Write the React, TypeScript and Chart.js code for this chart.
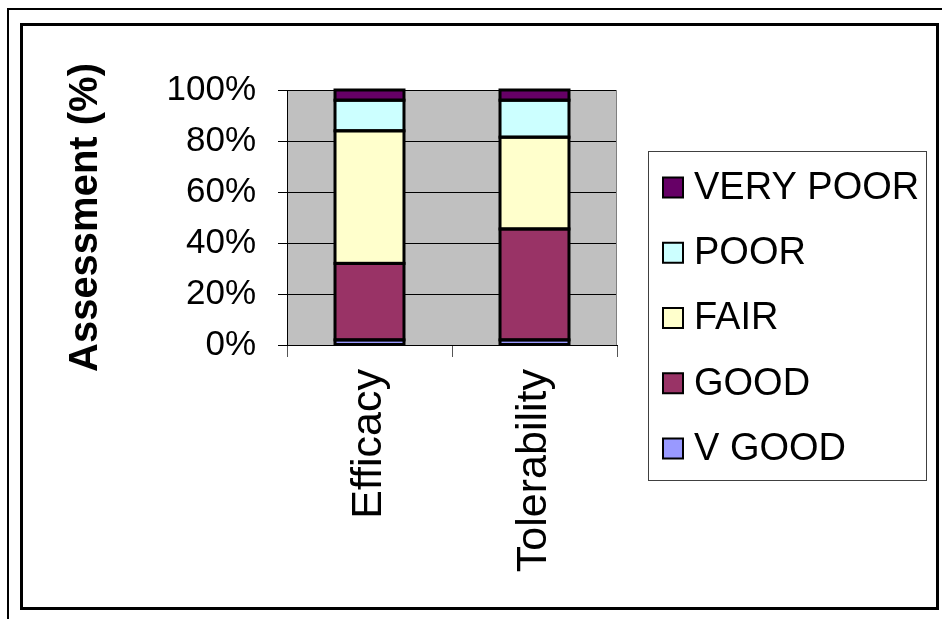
import React, { useEffect, useRef } from "react";
import { Chart, registerables } from "chart.js";

Chart.register(...registerables);

const categories = ["Efficacy", "Tolerability"];
const seriesNames = ["V GOOD", "GOOD", "FAIR", "POOR", "VERY POOR"];
const vGood = [2, 2];
const good = [30, 43.5];
const fair = [52, 36];
const poor = [12, 14.5];
const veryPoor = [4, 4];
const seriesColors = ["#9999FF", "#993366", "#FFFFCC", "#CCFFFF", "#660066"];
const yTicks = [0, 20, 40, 60, 80, 100];

const FONT = "'Liberation Sans', Arial, sans-serif";

const framePlugin = {
  id: "frame",
  beforeDraw(chart: any) {
    const { ctx, chartArea: a, width, height } = chart;
    ctx.save();
    ctx.fillStyle = "#ffffff";
    ctx.fillRect(0, 0, width, height);
    ctx.strokeStyle = "#000";
    ctx.lineWidth = 2;
    ctx.beginPath();
    ctx.moveTo(8, height + 10);
    ctx.lineTo(8, 9);
    ctx.lineTo(width + 10, 9);
    ctx.stroke();
    ctx.lineWidth = 3;
    ctx.strokeRect(21.5, 24.5, 916, 584);
    ctx.fillStyle = "#C0C0C0";
    ctx.fillRect(a.left, a.top, a.right - a.left, a.bottom - a.top);
    ctx.restore();
  },
  beforeDatasetsDraw(chart: any) {
    const { ctx, chartArea: a } = chart;
    ctx.save();
    ctx.strokeStyle = "#808080";
    ctx.lineWidth = 1;
    ctx.beginPath();
    ctx.moveTo(Math.round(a.right) - 0.5, a.top);
    ctx.lineTo(Math.round(a.right) - 0.5, a.bottom);
    ctx.stroke();
    ctx.restore();
  },
  afterDatasetsDraw(chart: any) {
    const { ctx } = chart;
    ctx.save();
    ctx.strokeStyle = "#000";
    ctx.lineWidth = 3;
    chart.data.datasets.forEach((_: any, i: number) => {
      const meta = chart.getDatasetMeta(i);
      meta.data.forEach((el: any) => {
        const p = el.getProps(["x", "y", "base", "width"], true);
        const top = Math.min(p.y, p.base);
        const bottom = Math.max(p.y, p.base);
        ctx.strokeRect(p.x - p.width / 2, top, p.width, bottom - top);
      });
    });
    ctx.restore();
  },
  afterDraw(chart: any) {
    const { ctx, chartArea: a } = chart;
    const left = a.right + 31;
    const top = 151;
    ctx.save();
    ctx.strokeStyle = "#404040";
    ctx.lineWidth = 1;
    ctx.strokeRect(left + 0.5, top + 0.5, 278, 329);
    const items = chart.data.datasets.map((d: any) => ({ label: d.label, color: d.backgroundColor })).reverse();
    ctx.font = `38px ${FONT}`;
    ctx.textBaseline = "middle";
    ctx.textAlign = "left";
    items.forEach((it: any, i: number) => {
      const cy = top + 36.5 + i * 65.25;
      ctx.fillStyle = it.color;
      ctx.fillRect(left + 15, cy - 10, 20, 20);
      ctx.strokeStyle = "#000";
      ctx.lineWidth = 2;
      ctx.strokeRect(left + 15, cy - 10, 20, 20);
      ctx.fillStyle = "#000";
      ctx.fillText(it.label, left + 46, cy + 1);
    });
    ctx.restore();
  },
};

export default function App() {
  const ref = useRef<HTMLCanvasElement>(null);
  useEffect(() => {
    if (!ref.current) return;
    const values = [vGood, good, fair, poor, veryPoor];
    const chart = new Chart(ref.current, {
      type: "bar",
      data: {
        labels: categories,
        datasets: seriesNames.map((name, i) => ({
          label: name,
          data: values[i],
          backgroundColor: seriesColors[i],
          borderWidth: 0,
          barPercentage: 0.418,
          categoryPercentage: 1.0,
        })),
      },
      options: {
        responsive: false,
        animation: false,
        layout: { padding: { left: 62, top: 90, right: 325, bottom: 0 } },
        plugins: { legend: { display: false }, tooltip: { enabled: false } },
        scales: {
          x: {
            stacked: true,
            grid: { display: true, drawOnChartArea: false, drawTicks: true, tickLength: 12, tickColor: "#555", offset: true },
            border: { display: true, color: "#000", width: 1 },
            ticks: {
              color: "#000",
              font: { family: FONT, size: 43 },
              minRotation: 90,
              maxRotation: 90,
              autoSkip: false,
              padding: 12,
            },
            afterFit: (s: any) => { s.height = 274; },
          },
          y: {
            stacked: true,
            min: 0,
            max: 100,
            afterBuildTicks: (s: any) => { s.ticks = yTicks.map((v) => ({ value: v })); },
            grid: { color: "#000", tickColor: "#000", tickLength: 9, lineWidth: 1 },
            border: { display: true, color: "#000", width: 1 },
            ticks: {
              color: "#000",
              font: { family: FONT, size: 35 },
              padding: 22,
              callback: (v: any) => `${v}%`,
            },
            title: {
              display: true,
              text: "Assessment (%)",
              color: "#000",
              font: { family: FONT, size: 40, weight: "bold" },
              padding: 0,
            },
            afterFit: (s: any) => { s.width = 225; },
          },
        },
      },
      plugins: [framePlugin],
    });
    return () => chart.destroy();
  }, []);
  return (
    <div style={{ position: "fixed", left: 0, top: 0, width: 942, height: 619 }}>
      <canvas ref={ref} width={942} height={619} style={{ display: "block", width: 942, height: 619 }} />
    </div>
  );
}
